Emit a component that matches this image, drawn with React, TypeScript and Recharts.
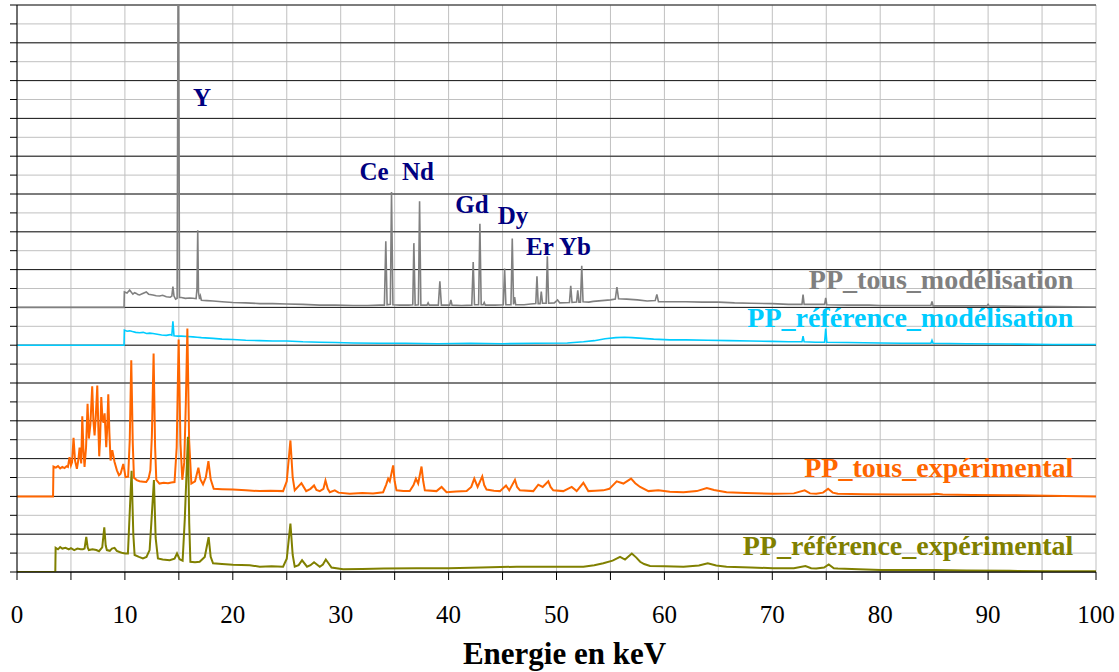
import React from "react";
import {
  ComposedChart,
  Line,
  XAxis,
  YAxis,
  CartesianGrid,
  ReferenceDot,
} from "recharts";

type Pt = [number, number];

// energy (keV), height above the trace's own baseline (1 = one major grid step)
const grayPoints: Pt[] = [
  [0, 0], [9.92, 0], [9.95, 0.41], [10.2, 0.38], [10.44, 0.46], [10.6, 0.4], [10.74, 0.35],
  [10.9, 0.39], [11.06, 0.37], [11.2, 0.34], [11.36, 0.33], [11.6, 0.36], [11.98, 0.41],
  [12.2, 0.35], [12.6, 0.33], [12.9, 0.31], [13.22, 0.3], [13.5, 0.32], [13.84, 0.28],
  [14.2, 0.27], [14.35, 0.3], [14.45, 0.55], [14.55, 0.3], [14.7, 0.22], [14.84, 0.24],
  [14.92, 8.0], [14.98, 8.0], [15.06, 0.26], [15.23, 0.26], [15.6, 0.24], [16.0, 0.25],
  [16.31, 0.24], [16.6, 0.23], [16.68, 0.5], [16.75, 2.04], [16.82, 0.4], [16.92, 0.22],
  [17.0, 0.3], [17.09, 0.19], [17.6, 0.18], [18.17, 0.17], [19.0, 0.15], [20.0, 0.13],
  [21.2, 0.12], [22.5, 0.1], [23.7, 0.1], [25.0, 0.09], [26.5, 0.08], [28.06, 0.06],
  [29.5, 0.06], [31.15, 0.05], [32.5, 0.05], [33.6, 0.06], [34.05, 0.06], [34.18, 1.75],
  [34.3, 0.07], [34.6, 0.08], [34.71, 3.05], [34.84, 0.07], [35.5, 0.06], [36.3, 0.06],
  [36.68, 0.07], [36.78, 1.7], [36.9, 0.06], [37.2, 0.07], [37.31, 2.81], [37.43, 0.06],
  [38.0, 0.06], [38.1, 0.12], [38.2, 0.06], [39.05, 0.06], [39.19, 0.69], [39.33, 0.06],
  [40.1, 0.06], [40.21, 0.2], [40.32, 0.06], [41.2, 0.05], [42.15, 0.06], [42.28, 1.2],
  [42.4, 0.07], [42.78, 0.07], [42.9, 2.21], [43.02, 0.07], [43.2, 0.07], [43.3, 0.13],
  [43.4, 0.06], [44.3, 0.06], [45.07, 0.07], [45.19, 1.03], [45.31, 0.07], [45.78, 0.07],
  [45.9, 1.82], [46.02, 0.08], [46.12, 0.27], [46.22, 0.07], [47.0, 0.07], [47.6, 0.09],
  [48.08, 0.1], [48.19, 0.82], [48.3, 0.1], [48.48, 0.1], [48.59, 0.42], [48.7, 0.11],
  [49.04, 0.11], [49.15, 1.35], [49.27, 0.11], [49.8, 0.12], [50.1, 0.2], [50.3, 0.12],
  [51.2, 0.13], [51.32, 0.57], [51.44, 0.13], [51.86, 0.14], [51.97, 0.45], [52.08, 0.14],
  [52.22, 0.14], [52.34, 1.1], [52.46, 0.15], [53.0, 0.14], [53.4, 0.16], [54.2, 0.18],
  [55.0, 0.2], [55.45, 0.22], [55.6, 0.54], [55.75, 0.23], [56.5, 0.22], [57.5, 0.2],
  [58.4, 0.17], [59.15, 0.18], [59.3, 0.34], [59.45, 0.15], [60.5, 0.15], [62.0, 0.15],
  [63.5, 0.14], [65.0, 0.14], [66.5, 0.12], [68.0, 0.11], [70.0, 0.1], [71.5, 0.08],
  [72.75, 0.08], [72.85, 0.34], [72.95, 0.08], [74.0, 0.08], [74.85, 0.08], [74.95, 0.25],
  [75.05, 0.07], [77.0, 0.06], [79.0, 0.06], [80.0, 0.05], [82.0, 0.05], [84.0, 0.05],
  [84.7, 0.05], [84.8, 0.16], [84.9, 0.04], [87.0, 0.04], [89.9, 0.04], [90.0, 0.08],
  [90.1, 0.04], [93.0, 0.03], [96.0, 0.02], [100, 0.01],
];

const cyanPoints: Pt[] = [
  [0, 0], [9.92, 0], [9.95, 0.4], [10.2, 0.37], [10.44, 0.38], [10.7, 0.36], [11.0, 0.34],
  [11.36, 0.33], [11.7, 0.34], [12.0, 0.31], [12.3, 0.32], [12.6, 0.31], [13.0, 0.29],
  [13.4, 0.27], [13.84, 0.26], [14.2, 0.28], [14.35, 0.26], [14.45, 0.63], [14.55, 0.25],
  [14.9, 0.24], [15.23, 0.24], [15.8, 0.23], [16.31, 0.22], [16.7, 0.21], [17.09, 0.2],
  [18.17, 0.18], [19.0, 0.16], [20.0, 0.15], [21.2, 0.13], [22.5, 0.12], [23.7, 0.11],
  [25.0, 0.11], [26.5, 0.09], [28.06, 0.08], [29.5, 0.07], [31.15, 0.06], [33.6, 0.05],
  [36.0, 0.05], [39.0, 0.04], [42.0, 0.05], [45.0, 0.04], [48.0, 0.05], [51.0, 0.06],
  [52.5, 0.09], [53.5, 0.12], [54.5, 0.17], [55.5, 0.2], [56.3, 0.21], [57.0, 0.2],
  [58.0, 0.18], [59.0, 0.16], [60.5, 0.14], [62.0, 0.14], [64.0, 0.13], [66.0, 0.12],
  [68.0, 0.11], [70.0, 0.1], [71.5, 0.09], [72.75, 0.09], [72.85, 0.24], [72.95, 0.09],
  [74.0, 0.08], [74.85, 0.08], [74.95, 0.44], [75.05, 0.08], [77.0, 0.07], [80.0, 0.06],
  [82.0, 0.05], [84.7, 0.05], [84.8, 0.13], [84.9, 0.05], [88.0, 0.04], [92.0, 0.03],
  [96.0, 0.02], [100, 0.02],
];

const orangePoints: Pt[] = [
  [0, 0], [3.34, 0], [3.38, 0.79], [3.6, 0.76], [3.8, 0.8], [4.0, 0.74], [4.2, 0.78],
  [4.4, 0.75], [4.6, 0.8], [4.72, 0.78], [4.87, 1.04], [5.0, 0.82], [5.1, 0.9], [5.24, 1.55],
  [5.38, 0.95], [5.55, 0.73], [5.68, 0.95], [5.8, 1.29], [5.95, 0.87], [6.05, 2.12],
  [6.16, 1.2], [6.26, 0.78], [6.4, 1.3], [6.54, 2.45], [6.66, 1.53], [6.8, 1.9], [6.97, 2.91],
  [7.08, 2.0], [7.19, 1.61], [7.3, 2.1], [7.44, 2.93], [7.54, 1.8], [7.62, 1.06], [7.7, 1.5],
  [7.81, 2.63], [7.92, 2.05], [8.02, 1.95], [8.12, 2.2], [8.27, 1.3], [8.36, 1.8], [8.46, 2.7],
  [8.56, 1.7], [8.67, 0.95], [8.83, 1.22], [9.04, 0.91], [9.26, 0.69], [9.45, 0.56],
  [9.6, 0.6], [9.85, 0.86], [10.06, 0.51], [10.3, 0.52], [10.45, 1.5], [10.59, 3.6],
  [10.73, 1.4], [10.84, 0.49], [11.1, 0.43], [11.36, 0.4], [11.7, 0.39], [11.98, 0.38],
  [12.2, 0.48], [12.36, 0.69], [12.5, 1.6], [12.66, 3.78], [12.8, 1.3], [12.91, 0.44],
  [13.2, 0.34], [13.6, 0.36], [14.0, 0.35], [14.3, 0.37], [14.6, 0.38], [14.8, 1.3],
  [14.98, 4.15], [15.15, 1.4], [15.32, 0.44], [15.5, 0.9], [15.65, 2.5], [15.79, 4.44],
  [15.95, 1.5], [16.16, 0.34], [16.5, 0.4], [16.81, 0.76], [17.0, 0.45], [17.24, 0.32],
  [17.5, 0.5], [17.74, 0.93], [17.95, 0.45], [18.23, 0.2], [19.0, 0.19], [20.0, 0.18],
  [21.2, 0.16], [22.5, 0.14], [23.5, 0.15], [24.66, 0.14], [25.0, 0.4], [25.34, 1.48],
  [25.55, 0.5], [25.74, 0.16], [26.36, 0.35], [26.8, 0.14], [27.2, 0.2], [27.53, 0.29],
  [27.75, 0.17], [28.06, 0.14], [28.4, 0.2], [28.59, 0.42], [28.8, 0.2], [28.99, 0.11],
  [29.45, 0.16], [29.8, 0.1], [30.84, 0.07], [32.0, 0.09], [33.0, 0.08], [33.93, 0.11],
  [34.2, 0.3], [34.4, 0.47], [34.55, 0.4], [34.86, 0.82], [35.0, 0.4], [35.17, 0.16],
  [35.8, 0.14], [36.4, 0.14], [36.75, 0.3], [36.97, 0.47], [37.18, 0.34], [37.49, 0.79],
  [37.65, 0.4], [37.8, 0.16], [38.88, 0.14], [39.35, 0.25], [39.81, 0.11], [40.7, 0.13],
  [41.67, 0.14], [42.1, 0.25], [42.38, 0.47], [42.69, 0.25], [43.12, 0.53], [43.3, 0.3],
  [43.52, 0.18], [44.2, 0.15], [44.76, 0.14], [45.32, 0.29], [45.62, 0.16], [46.15, 0.44],
  [46.35, 0.25], [46.61, 0.16], [47.85, 0.14], [48.31, 0.31], [48.72, 0.25], [49.24, 0.4],
  [49.45, 0.25], [49.7, 0.16], [50.63, 0.14], [51.41, 0.25], [51.87, 0.14], [52.49, 0.36],
  [52.95, 0.14], [53.6, 0.15], [54.34, 0.16], [54.9, 0.2], [55.58, 0.4], [56.2, 0.34],
  [56.91, 0.47], [57.3, 0.35], [57.75, 0.25], [58.52, 0.14], [59.44, 0.16], [60.5, 0.12],
  [61.77, 0.11], [63.0, 0.14], [63.93, 0.22], [64.6, 0.17], [65.76, 0.11], [67.5, 0.09],
  [70.08, 0.07], [72.0, 0.08], [73.0, 0.16], [73.5, 0.08], [74.07, 0.07], [74.7, 0.1],
  [75.17, 0.2], [75.6, 0.1], [76.07, 0.07], [78.5, 0.06], [81.7, 0.05], [84.6, 0.05],
  [85.2, 0.07], [85.8, 0.05], [88.5, 0.04], [91.7, 0.03], [95.5, 0.02], [100, 0.0],
];

const olivePoints: Pt[] = [
  [0, 0], [3.55, 0], [3.58, 0.64], [3.8, 0.6], [4.0, 0.66], [4.2, 0.62], [4.5, 0.64],
  [4.8, 0.6], [5.0, 0.63], [5.3, 0.58], [5.6, 0.62], [5.9, 0.6], [6.1, 0.6], [6.26, 0.62],
  [6.42, 0.93], [6.55, 0.65], [6.66, 0.58], [7.0, 0.6], [7.35, 0.58], [7.6, 0.55], [7.9, 0.65],
  [8.09, 1.18], [8.22, 0.7], [8.33, 0.58], [8.6, 0.56], [8.8, 0.62], [9.04, 0.64], [9.25, 0.56],
  [9.5, 0.53], [9.8, 0.5], [10.05, 0.49], [10.28, 0.49], [10.42, 1.4], [10.62, 2.68],
  [10.78, 1.0], [10.9, 0.45], [11.3, 0.4], [11.67, 0.36], [12.0, 0.4], [12.29, 0.58],
  [12.45, 1.3], [12.69, 2.43], [12.85, 0.9], [13.06, 0.36], [13.5, 0.33], [14.15, 0.31],
  [14.6, 0.35], [14.83, 0.49], [15.07, 0.34], [15.35, 0.3], [15.55, 1.4], [15.84, 3.58],
  [15.96, 1.3], [16.07, 0.27], [16.5, 0.26], [16.93, 0.27], [17.4, 0.4], [17.76, 0.92],
  [17.95, 0.4], [18.17, 0.23], [19.0, 0.21], [20.0, 0.19], [21.57, 0.18], [22.5, 0.14],
  [23.6, 0.15], [24.66, 0.14], [25.0, 0.35], [25.34, 1.28], [25.55, 0.45], [25.74, 0.14],
  [26.1, 0.18], [26.42, 0.31], [26.88, 0.14], [27.2, 0.18], [27.53, 0.26], [28.06, 0.14],
  [28.35, 0.2], [28.62, 0.33], [29.15, 0.12], [30.22, 0.07], [32.0, 0.08], [34.0, 0.09],
  [37.03, 0.1], [40.0, 0.1], [43.0, 0.12], [46.31, 0.14], [49.5, 0.14], [52.49, 0.14],
  [53.5, 0.18], [54.34, 0.23], [55.2, 0.3], [55.89, 0.4], [56.35, 0.33], [56.98, 0.49],
  [57.4, 0.38], [57.75, 0.27], [58.12, 0.21], [58.67, 0.16], [60.0, 0.15], [61.77, 0.14],
  [63.2, 0.17], [64.02, 0.23], [64.8, 0.17], [65.76, 0.14], [68.0, 0.12], [70.08, 0.1],
  [72.0, 0.1], [73.07, 0.16], [73.6, 0.1], [74.07, 0.09], [74.8, 0.12], [75.23, 0.2],
  [75.7, 0.1], [76.07, 0.09], [78.0, 0.07], [80.05, 0.05], [83.0, 0.05], [85.1, 0.05],
  [88.0, 0.04], [92.0, 0.03], [96.0, 0.02], [100, 0.02],
];

const seriesNames = [
  "PP_tous_modélisation",
  "PP_référence_modélisation",
  "PP_tous_expérimental",
  "PP_référence_expérimental",
];
const seriesColors = ["#808080", "#00ccff", "#ff6600", "#808000"];
const seriesOffsets = [7, 6, 2, 0];
const seriesLabelLevels = [7.48, 6.48, 2.52, 0.45];
const seriesLabelKeV = 97.9;

const elementNames = ["Y", "Ce", "Nd", "Gd", "Dy", "Er", "Yb"];
const elementKeV = [17.15, 33.09, 37.16, 42.17, 45.97, 48.47, 51.71];
const elementLevels = [12.33, 10.36, 10.36, 9.51, 9.21, 8.39, 8.39];

const xTicks = [0, 5, 10, 15, 20, 25, 30, 35, 40, 45, 50, 55, 60, 65, 70, 75, 80, 85, 90, 95, 100];
const yTicks = [
  0, 0.5, 1, 1.5, 2, 2.5, 3, 3.5, 4, 4.5, 5, 5.5, 6, 6.5, 7, 7.5,
  8, 8.5, 9, 9.5, 10, 10.5, 11, 11.5, 12, 12.5, 13, 13.5, 14, 14.5, 15,
];
const yMajor = [0, 1, 2, 3, 4, 5, 6, 7, 8, 9, 10, 11, 12, 13, 14, 15];
const Y_MAX = 15;

const FONT = "'Liberation Serif', 'DejaVu Serif', serif";

const traces = [grayPoints, cyanPoints, orangePoints, olivePoints].map((pts, i) =>
  pts.map(([e, v]) => ({ e, v: v + seriesOffsets[i] }))
);

// dark major grid lines at integer levels
const majorLines = (props: any) => {
  const ax = props && props.yAxis;
  const s = ax && ax.scale;
  if (typeof s === "function") {
    const out = yMajor.map((v) => s(v));
    if (out.every((p) => Number.isFinite(p))) return out;
  }
  if (s && typeof s.map === "function") {
    const out = yMajor.map((v) => s.map(v));
    if (out.every((p: any) => Number.isFinite(p))) return out;
  }
  const o = (props && props.offset) || { top: 5, height: 567 };
  return yMajor.map((v) => o.top + o.height * (1 - v / Y_MAX));
};

const textLabel =
  (text: string, color: string, size: number, anchor: "start" | "middle" | "end") =>
  (props: any) => {
    const vb = props.viewBox || {};
    return (
      <text
        x={vb.x}
        y={vb.y}
        textAnchor={anchor}
        fill={color}
        fontSize={size}
        fontWeight="bold"
        fontFamily={FONT}
      >
        {text}
      </text>
    );
  };

const XTick = (props: any) => {
  const { x, y, payload } = props;
  if (payload.value % 10 !== 0) return <g />;
  return (
    <text
      x={x}
      y={y + 18}
      textAnchor="middle"
      fontSize={25}
      fontWeight={400}
      fontFamily={FONT}
      fill="#000"
    >
      {payload.value}
    </text>
  );
};

const AxisTitle = (props: any) => {
  const vb = props.viewBox || {};
  return (
    <text
      x={vb.x + vb.width / 2 + 8}
      y={vb.y + 92}
      textAnchor="middle"
      fontSize={31}
      fontWeight="bold"
      fontFamily={FONT}
      fill="#000"
    >
      Energie en keV
    </text>
  );
};

export default function App() {
  return (
    <div style={{ position: "absolute", left: 0, top: 0, background: "#fff" }}>
      <ComposedChart
        width={1119}
        height={672}
        margin={{ top: 5, right: 23, left: 0, bottom: 0 }}
      >
        <CartesianGrid stroke="#c0c0c0" />
        <CartesianGrid
          stroke="#1a1a1a"
          vertical={false}
          horizontalCoordinatesGenerator={majorLines}
        />
        <XAxis
          dataKey="e"
          type="number"
          domain={[0, 100]}
          ticks={xTicks}
          interval={0}
          allowDataOverflow
          height={100}
          tickSize={8}
          tickMargin={25}
          stroke="#000"
          tickLine={{ stroke: "#000" }}
          tick={<XTick />}
          label={{ content: AxisTitle }}
        />
        <YAxis
          type="number"
          domain={[0, Y_MAX]}
          ticks={yTicks}
          interval={0}
          allowDataOverflow
          width={17}
          tickSize={7}
          stroke="#000"
          tickLine={{ stroke: "#000" }}
          tick={() => <g />}
        />
        {traces.map((d, i) => (
          <Line
            key={seriesNames[i]}
            data={d}
            dataKey="v"
            type="linear"
            stroke={seriesColors[i]}
            strokeWidth={i < 2 ? 1.6 : 2}
            dot={false}
            activeDot={false}
            isAnimationActive={false}
          />
        ))}
        {elementNames.map((n, i) => (
          <ReferenceDot
            key={n}
            x={elementKeV[i]}
            y={elementLevels[i]}
            r={0}
            fill="none"
            stroke="none"
            label={textLabel(n, "#000080", 25, "middle")}
          />
        ))}
        {seriesNames.map((n, i) => (
          <ReferenceDot
            key={"lbl" + n}
            x={seriesLabelKeV}
            y={seriesLabelLevels[i]}
            r={0}
            fill="none"
            stroke="none"
            label={textLabel(n, seriesColors[i], 28, "end")}
          />
        ))}
      </ComposedChart>
    </div>
  );
}
